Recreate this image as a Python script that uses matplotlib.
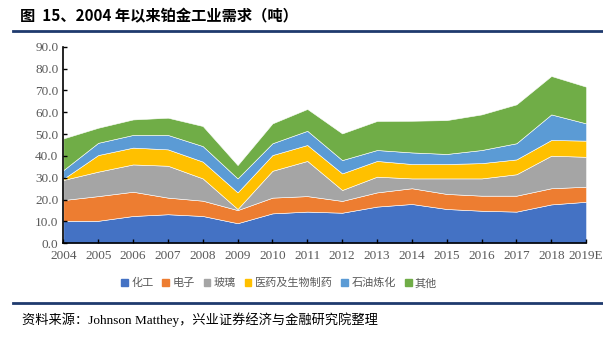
import matplotlib
matplotlib.use("Agg")
from matplotlib import pyplot as plt
from matplotlib.lines import Line2D
from matplotlib.patches import Patch

years = ['2004', '2005', '2006', '2007', '2008', '2009', '2010', '2011',
         '2012', '2013', '2014', '2015', '2016', '2017', '2018', '2019E']

chem = [10.3, 10.3, 12.5, 13.3, 12.5, 9.2, 13.7, 14.5, 14.0, 16.8, 18.0, 15.7, 14.9, 14.5, 17.8, 19.0]
elec = [9.5, 11.3, 11.1, 7.6, 7.0, 6.0, 7.2, 7.1, 5.4, 6.5, 7.2, 6.9, 6.9, 7.3, 7.4, 6.9]
glass = [9.2, 11.2, 12.5, 14.6, 10.2, 0.5, 12.3, 16.1, 5.0, 7.2, 4.5, 7.1, 7.9, 9.8, 14.9, 13.7]
medical = [0.5, 7.6, 7.7, 7.5, 7.7, 7.6, 7.2, 7.3, 7.6, 7.2, 6.6, 6.6, 7.0, 6.8, 7.2, 7.4]
petro = [4.0, 5.6, 5.8, 6.6, 7.1, 6.4, 5.4, 6.5, 6.1, 5.0, 5.3, 4.6, 6.0, 7.4, 11.7, 7.9]
other = [14.5, 6.9, 7.1, 7.9, 9.2, 6.1, 9.1, 10.0, 12.2, 13.3, 14.5, 15.5, 16.3, 17.8, 17.6, 16.8]

labels = ['化工', '电子', '玻璃', '医药及生物制药', '石油炼化', '其他']
colors = ['#4472C4', '#ED7D31', '#A5A5A5', '#FFC000', '#5B9BD5', '#70AD47']

plt.rcParams['font.family'] = ['Liberation Serif', 'Noto Sans CJK SC', 'DejaVu Sans']

fig = plt.figure(figsize=(6.03, 3.38), dpi=100)
ax = fig.add_axes([0.105, 0.2802, 0.867, 0.5816])

x = list(range(len(years)))
ax.stackplot(x, chem, elec, glass, medical, petro, other,
             colors=colors, labels=labels, edgecolor='white', linewidth=0.4)

ax.set_xlim(0, len(years) - 1)
ax.set_ylim(0, 90)
ax.set_yticks(range(0, 91, 10))
ax.set_yticklabels(['%.1f' % v for v in range(0, 91, 10)])
ax.set_xticks(x)
ax.set_xticklabels(years)
ax.tick_params(direction='in', length=3, width=1, colors='black',
               labelcolor='#595959', labelsize=9.5)
ax.tick_params(axis='x', pad=5)
for s in ['top', 'right']:
    ax.spines[s].set_visible(False)
for s in ['left', 'bottom']:
    ax.spines[s].set_linewidth(1.2)

handles = [Patch(color=c) for c in colors]
fig.legend(handles, labels, loc='center', bbox_to_anchor=(0.463, 0.162), ncol=6,
           frameon=False, prop={'family': 'Noto Sans CJK SC', 'size': 8},
           handlelength=0.6, handleheight=0.6, handletextpad=0.3, columnspacing=0.8,
           labelcolor='#595959')

fig.text(0.033, 0.952, '图  15、2004 年以来铂金工业需求（吨）', fontsize=11, fontweight='bold',
         family=['Noto Sans CJK SC'], va='center')
fig.add_artist(Line2D([0.022, 1.0], [0.908, 0.908], color='#1F3A6E', linewidth=2))
fig.add_artist(Line2D([0.022, 1.0], [0.104, 0.104], color='#1F3A6E', linewidth=2))
fig.text(0.036, 0.053, '资料来源：Johnson Matthey，兴业证券经济与金融研究院整理', fontsize=9.5,
         family=['Liberation Serif', 'Noto Sans CJK SC'], va='center')

fig.savefig('out.png', dpi=100)
